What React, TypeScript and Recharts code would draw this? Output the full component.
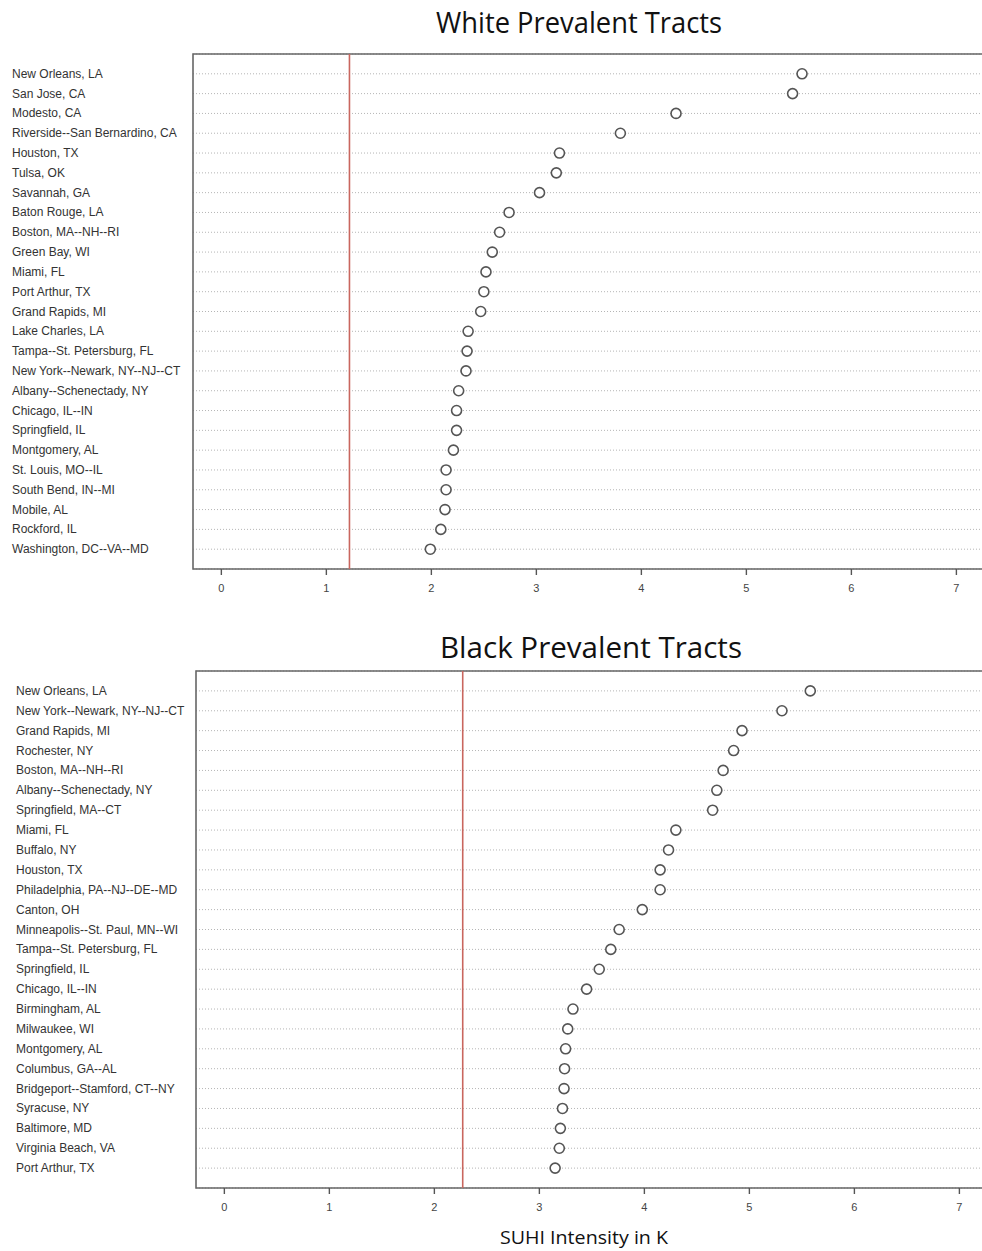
import React from 'react';
import {
  ScatterChart,
  Scatter,
  XAxis,
  YAxis,
  CartesianGrid,
  ReferenceLine,
  ReferenceArea,
} from 'recharts';

// White prevalent tracts, sorted high to low
const whiteCities = [
  'New Orleans, LA',
  'San Jose, CA',
  'Modesto, CA',
  'Riverside--San Bernardino, CA',
  'Houston, TX',
  'Tulsa, OK',
  'Savannah, GA',
  'Baton Rouge, LA',
  'Boston, MA--NH--RI',
  'Green Bay, WI',
  'Miami, FL',
  'Port Arthur, TX',
  'Grand Rapids, MI',
  'Lake Charles, LA',
  'Tampa--St. Petersburg, FL',
  'New York--Newark, NY--NJ--CT',
  'Albany--Schenectady, NY',
  'Chicago, IL--IN',
  'Springfield, IL',
  'Montgomery, AL',
  'St. Louis, MO--IL',
  'South Bend, IN--MI',
  'Mobile, AL',
  'Rockford, IL',
  'Washington, DC--VA--MD',
];
const whiteValues = [
  5.53, 5.44, 4.33, 3.8, 3.22, 3.19, 3.03, 2.74, 2.65, 2.58, 2.52, 2.5, 2.47,
  2.35, 2.34, 2.33, 2.26, 2.24, 2.24, 2.21, 2.14, 2.14, 2.13, 2.09, 1.99,
];
const whiteMean = 1.22;

// Black prevalent tracts
const blackCities = [
  'New Orleans, LA',
  'New York--Newark, NY--NJ--CT',
  'Grand Rapids, MI',
  'Rochester, NY',
  'Boston, MA--NH--RI',
  'Albany--Schenectady, NY',
  'Springfield, MA--CT',
  'Miami, FL',
  'Buffalo, NY',
  'Houston, TX',
  'Philadelphia, PA--NJ--DE--MD',
  'Canton, OH',
  'Minneapolis--St. Paul, MN--WI',
  'Tampa--St. Petersburg, FL',
  'Springfield, IL',
  'Chicago, IL--IN',
  'Birmingham, AL',
  'Milwaukee, WI',
  'Montgomery, AL',
  'Columbus, GA--AL',
  'Bridgeport--Stamford, CT--NY',
  'Syracuse, NY',
  'Baltimore, MD',
  'Virginia Beach, VA',
  'Port Arthur, TX',
];
const blackValues = [
  5.58, 5.31, 4.93, 4.85, 4.75, 4.69, 4.65, 4.3, 4.23, 4.15, 4.15, 3.98, 3.76,
  3.68, 3.57, 3.45, 3.32, 3.27, 3.25, 3.24, 3.235, 3.22, 3.2, 3.19, 3.15,
];
const blackMean = 2.27;

const xTicks = [0, 1, 2, 3, 4, 5, 6, 7];
const X_DOMAIN: [number, number] = [-0.27, 7.32];

const labelFont = '"Liberation Sans", Arial, sans-serif';
const titleFont = '"Open Sans", "Noto Sans", sans-serif';

const dot = (props: any) => (
  <circle
    cx={props.cx}
    cy={props.cy}
    r={5}
    fill="#fff"
    stroke="#555"
    strokeWidth={1.6}
  />
);

interface PanelProps {
  cities: string[];
  values: number[];
  mean: number;
  labelX: number;
  plotLeft: number;
  top: number;
  marginTop: number;
  height: number;
}

const DotPanel: React.FC<PanelProps> = ({
  cities,
  values,
  mean,
  labelX,
  plotLeft,
  top,
  marginTop,
  height,
}) => {
  const data = cities.map((c, i) => ({ city: c, rank: i + 1, value: values[i] }));
  const rankTicks = cities.map((_, i) => i + 1);

  const cityTick = (p: any) => (
    <text
      x={labelX}
      y={p.y}
      dy={4}
      textAnchor="start"
      fontSize={12}
      fontFamily={labelFont}
      fill="#333"
    >
      {cities[p.payload.value - 1]}
    </text>
  );

  return (
    <div style={{ position: 'absolute', left: 0, top }}>
      <ScatterChart
        width={plotLeft + 797 + 10}
        height={height}
        margin={{ top: marginTop, right: 10, bottom: 11, left: 0 }}
      >
        <CartesianGrid
          horizontal
          vertical={false}
          stroke="#b5b5b5"
          strokeDasharray="1 2"
        />
        <XAxis
          type="number"
          dataKey="value"
          domain={X_DOMAIN}
          ticks={xTicks}
          allowDataOverflow
          height={30}
          axisLine={false}
          tickLine={{ stroke: '#555', strokeWidth: 1.4 }}
          tickSize={6}
          tickMargin={9}
          tick={{ fontSize: 11, fill: '#444', fontFamily: labelFont }}
        />
        <YAxis
          type="number"
          dataKey="rank"
          domain={[0, 26]}
          reversed
          ticks={rankTicks}
          interval={0}
          width={plotLeft}
          axisLine={false}
          tickLine={false}
          tick={cityTick}
        />
        <ReferenceArea
          x1={X_DOMAIN[0]}
          x2={X_DOMAIN[1]}
          y1={0}
          y2={26}
          fill="none"
          stroke="#666"
          strokeWidth={1.6}
        />
        <ReferenceLine x={mean} stroke="#c9665e" strokeWidth={1.6} />
        <Scatter data={data} shape={dot} isAnimationActive={false} />
      </ScatterChart>
    </div>
  );
};

export default function App() {
  return (
    <div
      style={{
        position: 'absolute',
        left: 0,
        top: 0,
        width: 982,
        height: 1251,
        overflow: 'hidden',
        background: '#fff',
      }}
    >
      <DotPanel
        cities={whiteCities}
        values={whiteValues}
        mean={whiteMean}
        labelX={12}
        plotLeft={193}
        top={0}
        marginTop={54}
        height={610}
      />
      <DotPanel
        cities={blackCities}
        values={blackValues}
        mean={blackMean}
        labelX={16}
        plotLeft={196}
        top={620}
        marginTop={51}
        height={609}
      />
      <svg
        width={982}
        height={1251}
        style={{ position: 'absolute', left: 0, top: 0, pointerEvents: 'none' }}
      >
        <text
          x={436}
          y={33}
          fontSize={29}
          fontFamily={titleFont}
          fill="#111"
          textLength={286}
          lengthAdjust="spacingAndGlyphs"
        >
          White Prevalent Tracts
        </text>
        <text
          x={440}
          y={658}
          fontSize={29}
          fontFamily={titleFont}
          fill="#111"
          textLength={302}
          lengthAdjust="spacingAndGlyphs"
        >
          Black Prevalent Tracts
        </text>
        <text
          x={500}
          y={1244}
          fontSize={19}
          fontFamily={titleFont}
          fill="#111"
          textLength={168}
          lengthAdjust="spacingAndGlyphs"
        >
          SUHI Intensity in K
        </text>
      </svg>
    </div>
  );
}
